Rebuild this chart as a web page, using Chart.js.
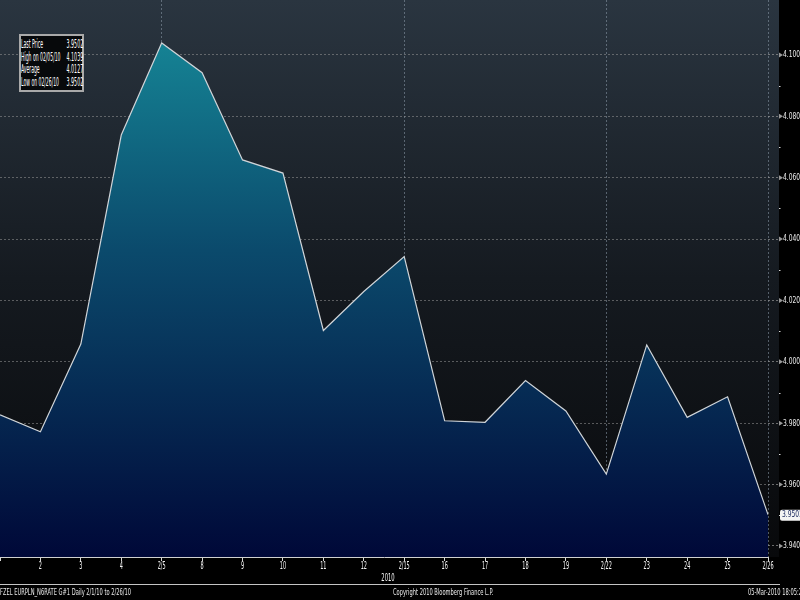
<!DOCTYPE html>
<html>
<head>
<meta charset="utf-8">
<script src="https://cdn.jsdelivr.net/npm/chart.js@4.4.1/dist/chart.umd.min.js"></script>
<style>
html, body { margin: 0; padding: 0; background: #000; }
#wrap {
    position: relative; width: 800px; height: 600px; overflow: hidden; background: #000;
    font-family: 'Liberation Sans Narrow', 'DejaVu Sans Condensed', sans-serif; color: #f2f2f2;
}
#chart { position: absolute; left: 0; top: 0; }
#stats {
    position: absolute; left: 19px; top: 34px; width: 65px; height: 58px; box-sizing: border-box;
    background: #07090b; border: 2px solid #a9a9a9;
}
.st { position: absolute; font-size: 11.5px; line-height: 12px; white-space: nowrap; color: #ffffff; }
.st.lab { left: 21px; transform: scaleX(0.44); transform-origin: left center; }
.st.val { right: 717px; transform: scaleX(0.46); transform-origin: right center; }
#footline { position: absolute; left: 0; top: 584px; width: 780px; height: 1px; background: #c4c4c4; }
.foot {
    position: absolute; top: 586px; font-size: 9.5px; line-height: 12px; white-space: nowrap; color: #e8e8e8;
    transform: scaleX(0.6); transform-origin: left center;
}
</style>
</head>
<body>
<div id="wrap">
    <canvas id="chart" width="800" height="600"></canvas>
    <div id="stats"></div>
    <div id="footline"></div>
    <div class="foot" id="footLeft" style="left:0"></div>
    <div class="foot" id="footMid" style="left:393px"></div>
    <div class="foot" id="footRight" style="left:748px"></div>
</div>
<script>
// EUR/PLN daily, Feb 2010
const dates = ['2/1', '2/2', '2/3', '2/4', '2/5', '2/8', '2/9', '2/10', '2/11', '2/12',
    '2/15', '2/16', '2/17', '2/18', '2/19', '2/22', '2/23', '2/24', '2/25', '2/26'];
const tickLabels = ['', '2', '3', '4', '2/5', '8', '9', '10', '11', '12',
    '2/15', '16', '17', '18', '19', '2/22', '23', '24', '25', '2/26'];
const rates = [3.9827, 3.9772, 4.0058, 4.0739, 4.1039, 4.0942, 4.0658, 4.0615, 4.0102, 4.0229,
    4.0343, 3.9808, 3.9803, 3.9939, 3.9840, 3.9634, 4.0055, 3.9819, 3.9886, 3.9502];
const yTicks = [3.94, 3.96, 3.98, 4.00, 4.02, 4.04, 4.06, 4.08, 4.10];
const weekLines = ['2/5', '2/15', '2/22', '2/26'];
const yearLabel = '2010';
const statLabels = ['Last Price', 'High on 02/05/10', 'Average', 'Low on 02/26/10'];
const statValues = ['3.9502', '4.1039', '4.0127', '3.9502'];
const footer = ['FZEL EURPLN_N6RATE   G#1   Daily 2/1/10 to 2/26/10',
    'Copyright 2010 Bloomberg Finance L.P.', '05-Mar-2010 18:05:27'];

const fontFam = "'Liberation Sans Narrow', 'DejaVu Sans Condensed', sans-serif";

const wrap = document.getElementById('wrap');
statLabels.forEach((l, i) => {
    const top = 38 + i * 12.7;
    const a = document.createElement('div');
    a.className = 'st lab';
    a.style.top = top + 'px';
    a.textContent = l;
    const b = document.createElement('div');
    b.className = 'st val';
    b.style.top = top + 'px';
    b.textContent = statValues[i];
    wrap.appendChild(a);
    wrap.appendChild(b);
});
document.getElementById('footLeft').textContent = footer[0];
document.getElementById('footMid').textContent = footer[1];
document.getElementById('footRight').textContent = footer[2];

// condensed text, the terminal font is much narrower than anything installed
function narrowText(ctx, text, x, y, sx, align) {
    ctx.save();
    ctx.translate(x, y);
    ctx.scale(sx, 1);
    ctx.textAlign = align;
    ctx.textBaseline = 'middle';
    ctx.fillText(text, 0, 0);
    ctx.restore();
}

const backdrop = {
    id: 'backdrop',
    beforeDraw(chart) {
        const { ctx, chartArea } = chart;
        const g = ctx.createLinearGradient(0, chartArea.top, 0, chartArea.bottom);
        g.addColorStop(0, '#2a3540');
        g.addColorStop(0.5, '#151a20');
        g.addColorStop(1, '#08090b');
        ctx.save();
        ctx.fillStyle = g;
        ctx.fillRect(0, chartArea.top, chartArea.right + 11, chartArea.bottom - chartArea.top);
        ctx.restore();
    }
};

const axisText = {
    id: 'axisText',
    afterDraw(chart) {
        const { ctx, chartArea, scales } = chart;
        ctx.save();
        ctx.fillStyle = '#f4f4f4';
        ctx.font = '10px ' + fontFam;
        scales.x.ticks.forEach((t, i) => {
            narrowText(ctx, tickLabels[i], scales.x.getPixelForTick(i), chartArea.bottom + 9, 0.55, 'center');
        });
        narrowText(ctx, yearLabel, (chartArea.left + chartArea.right) / 2 + 4, chartArea.bottom + 21, 0.58, 'center');

        ctx.font = '9px ' + fontFam;
        scales.y.ticks.forEach(t => {
            const y = scales.y.getPixelForValue(t.value);
            ctx.fillStyle = '#9a9a9a';
            ctx.beginPath();
            ctx.moveTo(chartArea.right + 11, y - 2.5);
            ctx.lineTo(chartArea.right + 15, y);
            ctx.lineTo(chartArea.right + 11, y + 2.5);
            ctx.fill();
            ctx.fillStyle = '#eaeaea';
            narrowText(ctx, t.value.toFixed(4), chartArea.right + 15, y, 0.74, 'left');
        });
        // minor ticks between labels
        ctx.fillStyle = '#dddddd';
        for (let i = 0; i < yTicks.length - 1; i++) {
            const y = scales.y.getPixelForValue((yTicks[i] + yTicks[i + 1]) / 2);
            ctx.fillRect(chartArea.right + 11, Math.round(y), 1.5, 1);
        }

        // last price tag
        const ly = scales.y.getPixelForValue(rates[rates.length - 1]);
        const lx = chartArea.right + 12;
        ctx.fillStyle = '#f4f4f4';
        ctx.beginPath();
        ctx.roundRect(lx, ly - 5, 26, 11, 2);
        ctx.fill();
        ctx.fillStyle = '#18265c';
        ctx.font = '9px ' + fontFam;
        narrowText(ctx, statValues[0], lx + 2, ly + 0.5, 0.74, 'left');
        ctx.restore();
    }
};

new Chart(document.getElementById('chart'), {
    type: 'line',
    data: {
        labels: dates,
        datasets: [{
            data: rates,
            borderColor: '#cfd4d8',
            borderWidth: 1.2,
            pointRadius: 0,
            tension: 0,
            fill: 'start',
            backgroundColor(c) {
                const a = c.chart.chartArea;
                if (!a) return 'rgba(0,0,0,0)';
                const g = c.chart.ctx.createLinearGradient(0, a.top, 0, a.bottom);
                g.addColorStop(0, '#178e9c');
                g.addColorStop(0.45, '#0b4a6c');
                g.addColorStop(1, '#000838');
                return g;
            }
        }]
    },
    options: {
        responsive: false,
        animation: false,
        layout: { padding: { top: 0, left: 0, right: 0, bottom: 15 } },
        plugins: { legend: { display: false }, tooltip: { enabled: false } },
        scales: {
            x: {
                type: 'category',
                offset: false,
                grid: {
                    color: c => weekLines.includes(dates[c.index]) ? 'rgba(140,155,170,0.55)' : 'rgba(0,0,0,0)',
                    tickColor: '#d8d8d8',
                    tickLength: 4,
                    tickBorderDash: []
                },
                border: { display: true, color: '#d0d0d0', width: 1, dash: [2, 2] },
                ticks: { display: false, autoSkip: false, maxRotation: 0 },
                afterFit(scale) { scale.height = 28; }
            },
            y: {
                position: 'right',
                min: 3.9364,
                max: 4.1179,
                afterBuildTicks(scale) { scale.ticks = yTicks.map(v => ({ value: v })); },
                grid: {
                    color: 'rgba(150,150,150,0.55)',
                    tickColor: 'rgba(150,150,150,0.7)',
                    tickLength: 11,
                    tickBorderDash: [2, 2]
                },
                border: { display: false, dash: [2, 2] },
                ticks: { display: false },
                afterFit(scale) { scale.width = 32; }
            }
        }
    },
    plugins: [backdrop, axisText]
});
</script>
</body>
</html>
